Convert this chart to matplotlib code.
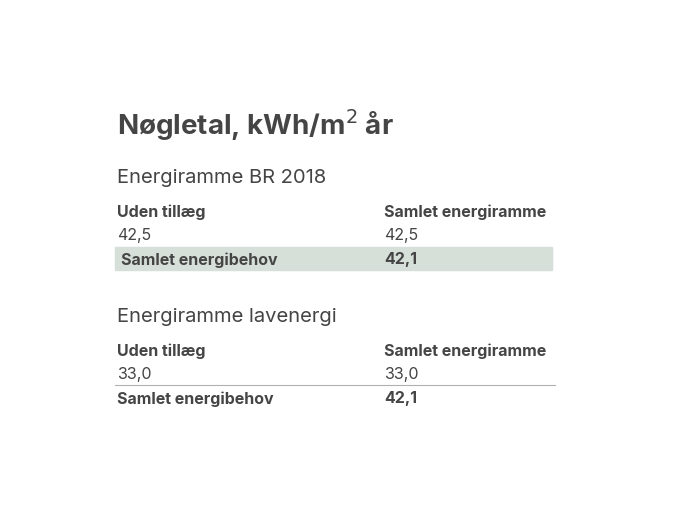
import matplotlib
matplotlib.use("Agg")
import matplotlib.pyplot as plt
from matplotlib.patches import Rectangle

title = "Nøgletal, kWh/m$^2$ år"
sections = ["Energiramme BR 2018", "Energiramme lavenergi"]
col_headers = ["Uden tillæg", "Samlet energiramme"]
uden_tillaeg = [42.5, 33.0]
samlet_ramme = [42.5, 33.0]
samlet_behov = [42.1, 42.1]
row_label = "Samlet energibehov"

def fmt(v):
    return f"{v:.1f}".replace(".", ",")

W, H = 680, 510
fig = plt.figure(figsize=(6.8, 5.1), dpi=100)
ax = fig.add_axes([0, 0, 1, 1])
ax.set_xlim(0, W); ax.set_ylim(H, 0); ax.axis("off")
col = "#454545"
fam = "Inter"

ax.text(117, 125, title, fontsize=20, fontweight="bold", color=col, family=fam, va="center")
tops = [178, 317]
for i, (sec, top) in enumerate(zip(sections, tops)):
    ax.text(117, top, sec, fontsize=14.5, color=col, family=fam, va="center")
    r1, r2, r3 = top + 34, top + 58, top + 82
    ax.text(117, r1, col_headers[0], fontsize=11.5, fontweight="bold", color=col, family=fam, va="center")
    ax.text(384, r1, col_headers[1], fontsize=11.5, fontweight="bold", color=col, family=fam, va="center")
    ax.text(117, r2, fmt(uden_tillaeg[i]), fontsize=11.5, color=col, family=fam, va="center")
    ax.text(384, r2, fmt(samlet_ramme[i]), fontsize=11.5, color=col, family=fam, va="center")
    if i == 0:
        ax.add_patch(Rectangle((115, r3 - 12), 437, 23, color="#d6e0d9", zorder=0))
        x0 = 121
    else:
        ax.plot([115, 555], [r2 + 11, r2 + 11], color="#b0b0b0", lw=0.8)
        x0 = 117
    ax.text(x0, r3, row_label, fontsize=11.5, fontweight="bold", color=col, family=fam, va="center")
    ax.text(384, r3, fmt(samlet_behov[i]), fontsize=11.5, fontweight="bold", color=col, family=fam, va="center")

fig.savefig("out.png", dpi=100)
